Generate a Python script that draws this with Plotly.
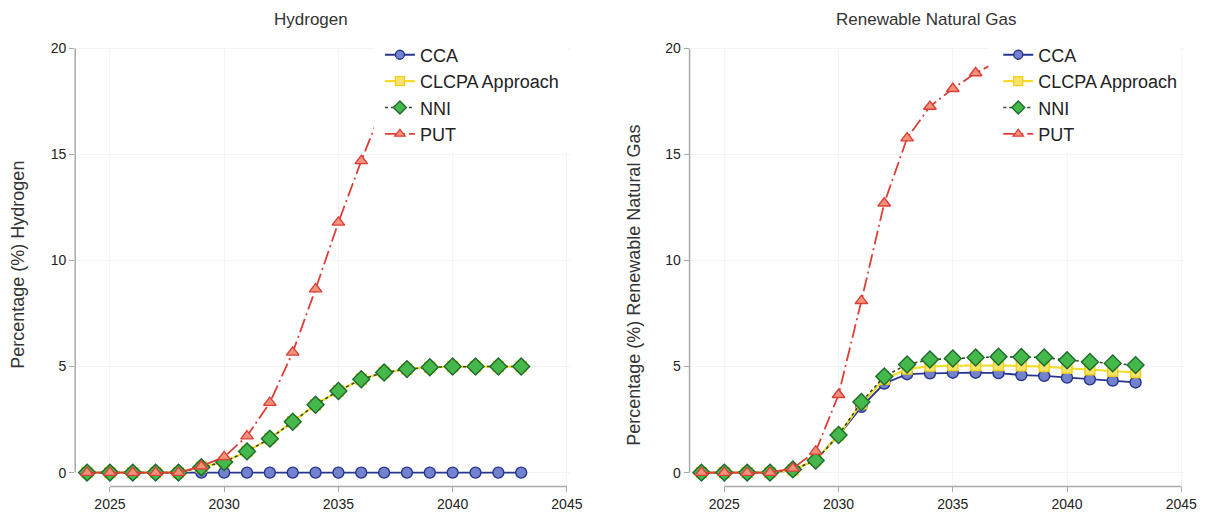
import plotly.graph_objects as go

# ---- data -------------------------------------------------------------
years = list(range(2024, 2044))

# Hydrogen blend (%)
h2_cca = [0] * 20
h2_clcpa = [0, 0, 0, 0, 0, 0.25, 0.5, 1.0, 1.6, 2.4, 3.2, 3.85, 4.4, 4.72, 4.88, 4.97, 5.0, 5.0, 5.0, 5.0]
h2_nni = [0, 0, 0, 0, 0, 0.25, 0.5, 1.0, 1.6, 2.4, 3.2, 3.85, 4.4, 4.72, 4.88, 4.97, 5.0, 5.0, 5.0, 5.0]
h2_put = [0, 0, 0, 0, 0, 0.3, 0.74, 1.72, 3.3, 5.67, 8.65, 11.8, 14.7, 17.4, 19.5, 20.0, 20.0, 20.0, 20.0, 20.0]

# Renewable natural gas blend (%)
rng_cca = [0, 0, 0, 0, 0.1, 0.6, 1.75, 3.1, 4.2, 4.64, 4.68, 4.71, 4.71, 4.69, 4.6, 4.56, 4.48, 4.4, 4.34, 4.25]
rng_clcpa = [0, 0, 0, 0, 0.12, 0.6, 1.77, 3.25, 4.4, 4.88, 5.02, 5.05, 5.05, 5.05, 5.03, 5.0, 4.92, 4.85, 4.78, 4.72]
rng_nni = [0, 0, 0, 0, 0.15, 0.57, 1.77, 3.33, 4.53, 5.1, 5.33, 5.38, 5.43, 5.46, 5.45, 5.43, 5.3, 5.22, 5.15, 5.07]
rng_put = [0, 0, 0, 0, 0.2, 1.0, 3.67, 8.1, 12.7, 15.77, 17.26, 18.1, 18.84, 19.4, 19.8, 20.0, 20.0, 20.0, 20.0, 20.0]

scenarios = ["CCA", "CLCPA Approach", "NNI", "PUT"]
x_ticks = [2025, 2030, 2035, 2040, 2045]
y_ticks = [0, 5, 10, 15, 20]

# ---- styles ------------------------------------------------------------
FONT = "Liberation Sans, Arial, sans-serif"
AXIS_GREY = "#a9a9a9"
W, H = 1221, 512

styles = {
    "CCA": dict(line=dict(color="#28348f", width=1.8, dash="solid"),
                symbol="circle", size=11, fill="#7382cc", edge="#28348f"),
    "CLCPA Approach": dict(line=dict(color="#f3dc2a", width=2.2, dash="solid"),
                           symbol="square", size=10, fill="#f8e36a", edge="#eecf1c"),
    "NNI": dict(line=dict(color="#2f4a2a", width=1.6, dash="dot"),
                symbol="diamond", size=13, fill="#45b84c", edge="#1e6a2a"),
    "PUT": dict(line=dict(color="#dd3f38", width=1.8, dash="14px,4px,2px,4px"),
                symbol="triangle-up", size=11, fill="#f3927a", edge="#dd3f38"),
}
legend_marker_size = {"CCA": 9, "CLCPA Approach": 9, "NNI": 10, "PUT": 9}

panels = [
    ("x", "y", "legend", [h2_cca, h2_clcpa, h2_nni, h2_put]),
    ("x2", "y2", "legend2", [rng_cca, rng_clcpa, rng_nni, rng_put]),
]

fig = go.Figure()
for xa, ya, leg, series in panels:
    for name, vals in zip(scenarios, series):
        st = styles[name]
        fig.add_trace(go.Scatter(
            x=years, y=vals, name=name, mode="lines+markers",
            xaxis=xa, yaxis=ya, showlegend=False,
            line=st["line"],
            marker=dict(symbol=st["symbol"], size=st["size"], color=st["fill"],
                        line=dict(color=st["edge"], width=1.4)),
        ))
    # legend keys with smaller symbols
    for name in scenarios:
        st = styles[name]
        fig.add_trace(go.Scatter(
            x=[None], y=[None], name=name, mode="lines+markers",
            xaxis=xa, yaxis=ya, legend=leg, legendgroup=leg + name,
            line=st["line"],
            marker=dict(symbol=st["symbol"], size=legend_marker_size[name], color=st["fill"],
                        line=dict(color=st["edge"], width=1.3)),
        ))

# ---- axes --------------------------------------------------------------
def px_x(p):
    return p / W

def px_y(p):
    return 1 - p / H

x_range = [2023.48, 2045.13]
y_range = [-0.65, 20.05]
y_dom = [px_y(487), px_y(41)]

axis_common = dict(
    showline=False, zeroline=False, showgrid=True, gridcolor="#f4f4f4",
    ticks="outside", ticklen=5, tickcolor=AXIS_GREY, tickwidth=1,
    tickfont=dict(family=FONT, size=14, color="#222"),
)

fig.update_layout(
    xaxis=dict(domain=[px_x(76), px_x(576)], range=x_range, tickvals=x_ticks, anchor="y", **axis_common),
    yaxis=dict(domain=y_dom, range=y_range, tickvals=y_ticks, anchor="x", **axis_common),
    xaxis2=dict(domain=[px_x(697), px_x(1197)], range=x_range, tickvals=x_ticks, anchor="y2", **axis_common),
    yaxis2=dict(domain=y_dom, range=y_range, tickvals=y_ticks, anchor="x2", **axis_common),
)

# range-frame axis lines: y from 0 to 20, x from 2025 to 2045
shapes = []
for xa, ya in [("x", "y"), ("x2", "y2")]:
    shapes.append(dict(type="line", xref=f"{xa} domain", yref=ya, x0=0, x1=0, y0=0, y1=20,
                       line=dict(color=AXIS_GREY, width=1.5)))
    shapes.append(dict(type="line", xref=xa, yref=f"{ya} domain", x0=2025, x1=2045, y0=0, y1=0,
                       line=dict(color=AXIS_GREY, width=1.5)))

# white key panels behind each legend
for left in (378, 999):
    shapes.append(dict(type="rect", xref="paper", yref="paper", layer="above",
                       x0=px_x(left), x1=px_x(left + 195), y0=px_y(148), y1=px_y(38),
                       fillcolor="white", line=dict(width=0)))

legend_common = dict(
    bgcolor="rgba(0,0,0,0)", borderwidth=0, itemwidth=30,
    font=dict(family=FONT, size=18, color="#222"),
    xanchor="left", yanchor="top", tracegroupgap=0,
)

annotations = [
    dict(text="Hydrogen", x=px_x(314), y=px_y(13), xref="paper", yref="paper",
         xanchor="center", yanchor="middle",
         showarrow=False, font=dict(family=FONT, size=17, color="#333")),
    dict(text="Renewable Natural Gas", x=px_x(936), y=px_y(13), xref="paper", yref="paper",
         xanchor="center", yanchor="middle",
         showarrow=False, font=dict(family=FONT, size=17, color="#333")),
    dict(text="Percentage (%) Hydrogen", x=px_x(18), y=px_y(262), xref="paper", yref="paper",
         xanchor="center", yanchor="middle",
         showarrow=False, textangle=-90, font=dict(family=FONT, size=18, color="#333")),
    dict(text="Percentage (%) Renewable Natural Gas", x=px_x(640), y=px_y(283), xref="paper", yref="paper",
         xanchor="center", yanchor="middle",
         showarrow=False, textangle=-90, font=dict(family=FONT, size=18, color="#333")),
]

fig.update_layout(
    width=W, height=H,
    margin=dict(l=0, r=0, t=0, b=0),
    paper_bgcolor="white", plot_bgcolor="white",
    showlegend=True,
    legend=dict(x=px_x(384), y=px_y(30), **legend_common),
    legend2=dict(x=px_x(1009), y=px_y(30), **legend_common),
    shapes=shapes,
    annotations=annotations,
)

fig.write_html("out.html")
